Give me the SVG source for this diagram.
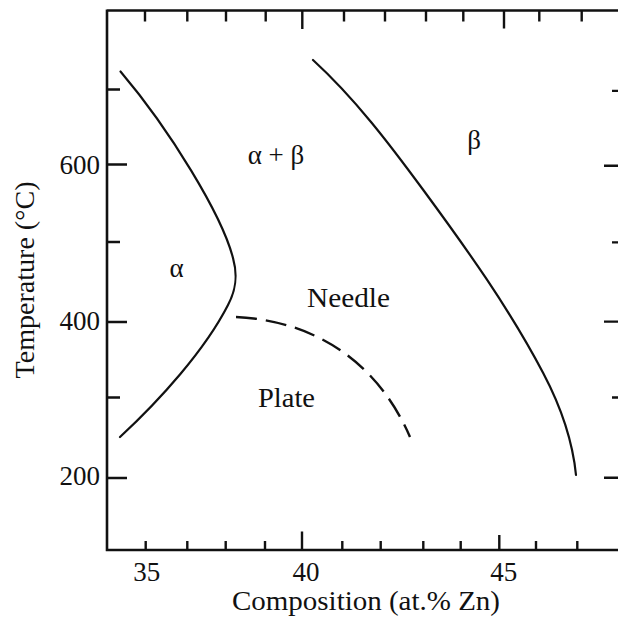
<svg xmlns="http://www.w3.org/2000/svg" width="618" height="630" viewBox="0 0 618 630">
<style>
.ax{stroke:#111;stroke-width:2.6;fill:none;stroke-linecap:butt}
.tk{stroke:#111;stroke-width:2.4;fill:none}
.cv{stroke:#111;stroke-width:2.2;fill:none;stroke-linecap:round}
.ds{stroke:#111;stroke-width:2.4;fill:none;stroke-dasharray:21 9}
text{font-family:"Liberation Serif","Times New Roman",serif;font-size:27px;fill:#111}
.tl{text-anchor:middle}
.yl{text-anchor:end}
</style>
<rect width="618" height="630" fill="#fff"/>
<g id="axes">
<path class="ax" d="M107,10.5 H619 M107,9.5 V551 M105.8,550 H619"/>
<path class="tk" d="M107,164.5 H127 M107,322 H127 M107,478 H127 M107,89.5 H120 M107,242 H120 M107,397.5 H120"/>
<path class="tk" d="M604,165.8 H618 M604,321.6 H618 M604,477.7 H618 M612,90.9 H618 M612,242.4 H618 M612,397.5 H618"/>
<path class="tk" d="M145.7,550 V541 M187.3,550 V541 M225.7,550 V541 M265,550 V541 M342.3,550 V541 M380.7,550 V541 M423.3,550 V541 M460.7,550 V541 M536,550 V541 M577.3,550 V541 M302,550 V531.5 M499.3,550 V535"/>
<path class="tk" d="M145,10.5 V21.5 M187.3,10.5 V21.5 M226,10.5 V21.5 M265.7,10.5 V21.5 M344,10.5 V21.5 M385,10.5 V21.5 M426,10.5 V21.5 M463.3,10.5 V21.5 M539.3,10.5 V21.5 M581.7,10.5 V21.5 M302.3,10.5 V29 M504,10.5 V28.5"/>
<text class="yl" x="100" y="174">600</text>
<text class="yl" x="100" y="330">400</text>
<text class="yl" x="100" y="485">200</text>
<text class="tl" x="146.7" y="581">35</text>
<text class="tl" x="306" y="581">40</text>
<text class="tl" x="503.7" y="581">45</text>
<text class="tl" x="366" y="610" textLength="268" lengthAdjust="spacingAndGlyphs">Composition (at.% Zn)</text>
<text class="tl" transform="translate(33.5,280) rotate(-90)" textLength="197" lengthAdjust="spacingAndGlyphs">Temperature (°C)</text>
</g>
<g id="connectors">
<path id="alpha-boundary" class="cv" d="M120.5,71.5 C170,130 222,215 233,258 C238,276 236,290 228,305 C205,350 160,400 120,437"/>
<path id="beta-boundary" class="cv" d="M313,60 C355,98.5 389.5,144 423.3,190 C466.6,248.8 509.4,308.7 543.3,373.3 C560,405 572.4,439 576,475"/>
<path id="needle-plate" class="ds" d="M236,317 C303,320 373,352 410,437"/>
</g>
<g id="label-alpha"><text class="tl" x="176.7" y="277">α</text></g>
<g id="label-alpha-beta"><text class="tl" x="276" y="164">α + β</text></g>
<g id="label-beta"><text class="tl" x="474" y="149">β</text></g>
<g id="label-needle"><text x="307" y="307" textLength="83" lengthAdjust="spacingAndGlyphs">Needle</text></g>
<g id="label-plate"><text x="258" y="407" textLength="57" lengthAdjust="spacingAndGlyphs">Plate</text></g>
</svg>
